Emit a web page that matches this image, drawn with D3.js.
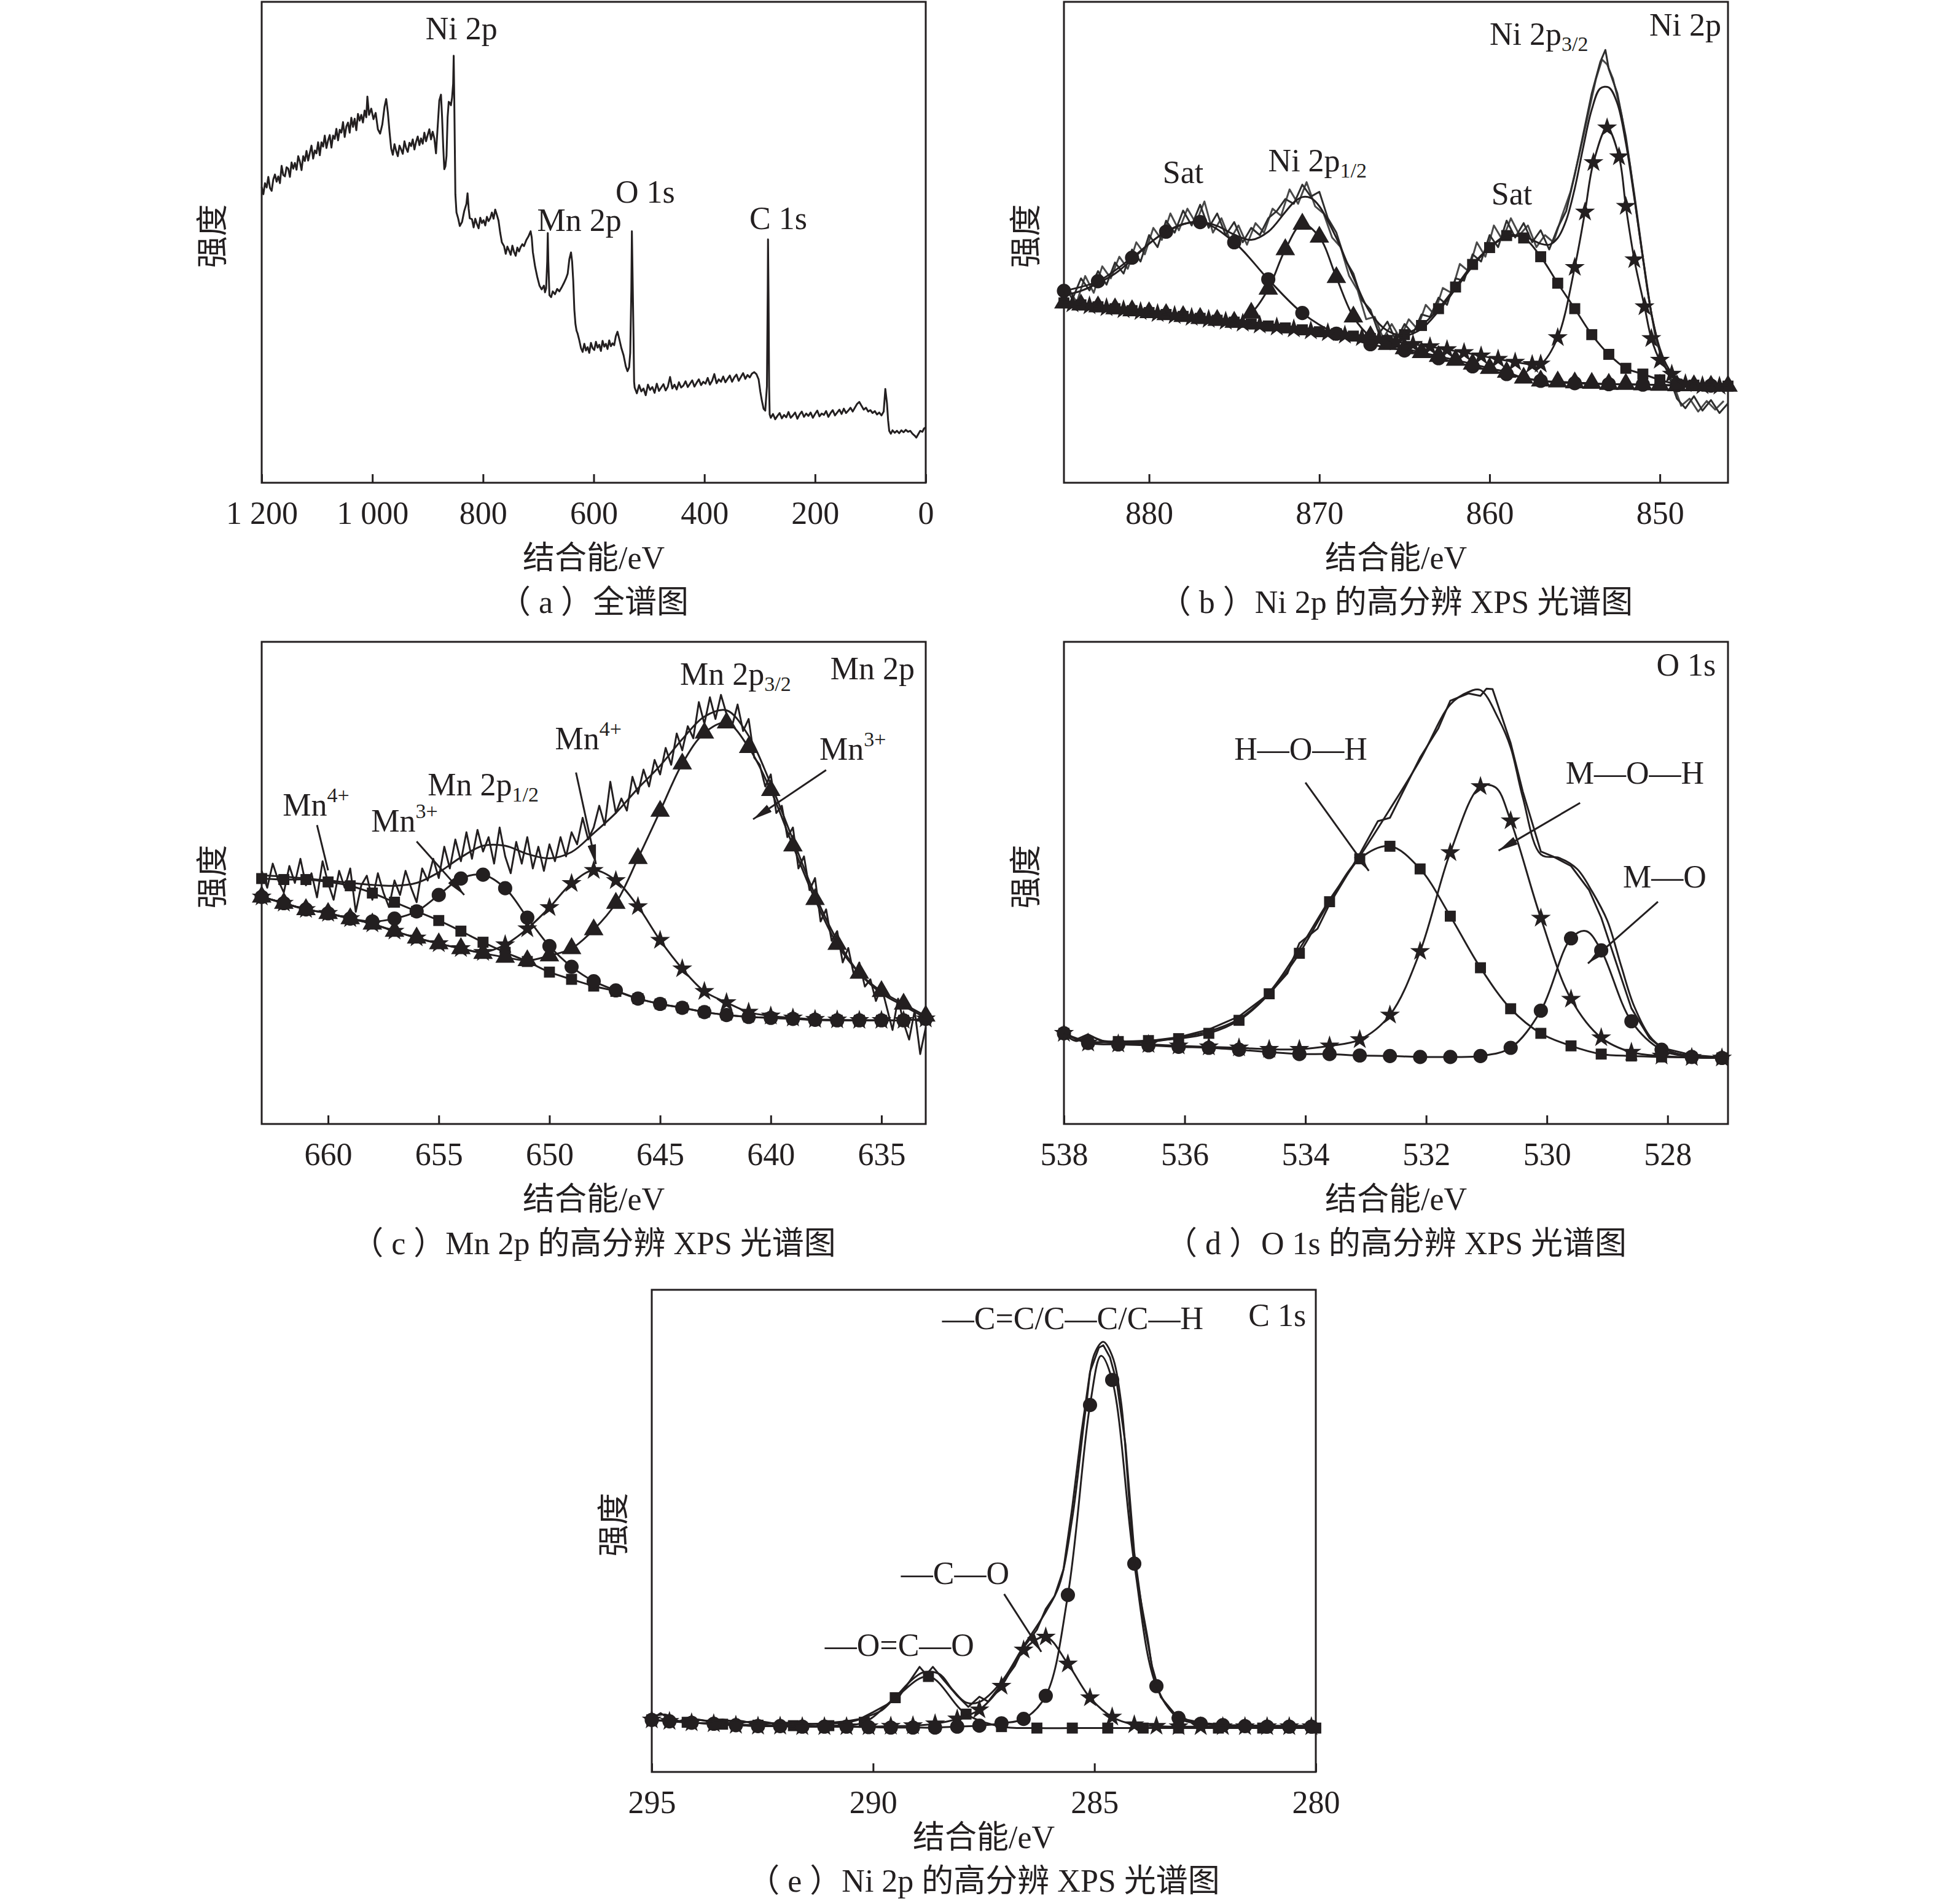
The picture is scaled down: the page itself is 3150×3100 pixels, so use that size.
<!DOCTYPE html>
<html>
<head>
<meta charset="utf-8">
<script src="https://cdn.jsdelivr.net/npm/d3@7"></script>
<style>
body { margin: 0; background: #fff; }
text { font-family: "Liberation Serif", "Noto Sans CJK SC", serif; fill: #231f20; }
</style>
</head>
<body>
<script>
// ---------- (a) survey ----------
var surveyTicks = [1200, 1000, 800, 600, 400, 200, 0];
var surveyTickLabels = ['1 200', '1 000', '800', '600', '400', '200', '0'];
var surveyRaw = [
  [1200,61.5],[1197,60.0],[1194,62.3],[1191,61.4],[1188,63.6],[1185,61.3],[1182,60.7],[1179,63.1],[1176,64.1],[1173,62.6],
  [1170,63.7],[1167,62.3],[1164,65.9],[1161,64.0],[1158,63.7],[1155,65.6],[1152,65.3],[1149,63.6],[1146,66.6],[1143,65.3],
  [1140,66.5],[1137,65.1],[1134,67.9],[1131,66.8],[1128,65.0],[1125,67.9],[1122,66.9],[1119,69.0],[1116,67.0],[1113,68.6],
  [1110,70.1],[1107,67.4],[1104,69.1],[1101,68.5],[1098,70.8],[1095,68.1],[1092,70.8],[1089,69.9],[1086,72.2],[1083,69.6],
  [1080,71.2],[1077,72.3],[1074,69.7],[1071,72.2],[1068,71.5],[1065,73.6],[1062,71.2],[1059,73.4],[1056,72.8],[1053,75.0],
  [1050,71.9],[1047,74.1],[1044,74.9],[1041,72.8],[1038,75.9],[1035,74.0],[1032,75.7],[1029,73.3],[1026,76.7],[1023,75.3],
  [1020,76.5],[1017,74.9],[1014,77.4],[1011,76.0],[1009,80.3],[1006,76.5],[1002,77.8],[998,75.6],[994,76.9],[990,73.5],
  [986,72.6],[982,74.5],[978,78.2],[975,79.8],[972,77.0],[969,73.0],[966,69.5],[963,68.2],[960,70.4],[957,69.0],
  [954,67.9],[951,70.1],[948,69.3],[945,68.4],[942,71.0],[939,69.6],[936,68.8],[933,70.7],[930,70.0],[927,71.4],
  [924,69.3],[921,70.9],[918,72.0],[915,70.2],[912,71.6],[909,70.5],[906,72.8],[903,71.0],[900,72.3],[897,73.5],
  [894,71.4],[891,73.0],[888,71.6],[885,68.5],[882,74.0],[879,79.5],[876,80.7],[874,76.0],[872,70.0],[870,65.2],
  [868,65.8],[866,68.0],[864,76.0],[862,79.2],[860,79.0],[858,78.5],[856,80.0],[854,83.0],[853,88.8],[852,80.0],
  [851,70.0],[850,60.0],[848,56.2],[845,55.0],[842,53.4],[838,54.2],[834,56.5],[830,58.0],[828,60.2],[826,57.0],
  [824,55.0],[820,54.8],[817,53.1],[814,54.9],[811,53.8],[808,52.9],[805,55.1],[802,54.0],[799,54.6],[796,53.5],
  [793,55.3],[790,54.4],[787,55.0],[784,56.2],[781,54.9],[778,56.8],[775,55.7],[772,54.5],[769,52.0],[766,50.0],
  [762,49.2],[759,47.6],[756,49.1],[753,48.3],[750,47.4],[747,49.3],[744,48.0],[741,47.2],[738,48.9],[735,48.1],
  [732,49.0],[729,49.6],[726,49.2],[722,50.4],[718,51.2],[714,52.3],[712,51.0],[710,48.0],[706,45.0],[702,42.8],
  [698,41.0],[694,40.2],[690,41.0],[688,39.6],[686,40.4],[684,46.0],[683,51.9],[682,46.0],[680,39.0],[677,38.6],
  [674,39.8],[670,39.2],[666,40.3],[662,39.8],[658,40.6],[654,41.5],[650,42.5],[647,43.5],[644,46.5],[641,47.9],
  [639,46.0],[637,42.0],[635,36.0],[633,33.0],[631,31.6],[629,31.0],[626,29.6],[623,28.0],[620,27.2],[617,28.9],
  [614,27.5],[611,28.2],[608,27.0],[605,29.1],[602,28.0],[599,27.6],[596,29.3],[593,28.1],[590,28.7],[587,27.4],
  [584,29.5],[581,28.3],[578,28.9],[575,27.8],[572,29.6],[569,28.4],[566,29.0],[563,28.6],[560,30.5],[557,31.4],
  [554,30.0],[550,28.0],[546,26.5],[542,24.2],[539,23.2],[536,24.0],[534,27.0],[532,40.0],[531,52.3],[530,45.0],
  [528,30.0],[527,21.0],[526,19.8],[522,18.6],[518,20.3],[514,19.0],[510,19.6],[506,18.2],[502,20.4],[498,19.3],
  [494,19.9],[490,18.7],[486,20.6],[482,19.1],[478,19.8],[474,20.5],[470,19.2],[466,20.0],[462,22.0],[458,19.6],
  [454,20.4],[450,19.4],[446,20.9],[442,19.8],[438,20.2],[434,21.1],[430,19.9],[426,20.6],[422,21.3],[418,20.0],
  [414,20.8],[410,21.5],[406,20.3],[402,21.0],[398,20.6],[394,21.8],[390,20.4],[386,21.2],[382,22.6],[378,20.7],
  [374,21.5],[370,21.0],[366,22.1],[362,20.9],[358,21.6],[354,22.3],[350,21.0],[346,21.9],[342,22.5],[338,21.2],
  [334,22.0],[330,22.8],[326,21.6],[322,22.4],[318,21.9],[314,22.7],[310,23.0],[306,22.6],[302,21.5],[299,19.0],
  [296,17.0],[293,15.4],[290,15.0],[287,20.0],[285.5,40.0],[285,50.6],[284,38.0],[283,20.0],[282,14.2],[280,13.5],
  [276,14.3],[272,13.2],[268,13.9],[264,14.5],[260,13.4],[256,14.1],[252,13.6],[248,14.7],[244,13.5],[240,14.0],
  [236,14.6],[232,13.3],[228,14.2],[224,14.8],[220,13.7],[216,14.4],[212,13.9],[208,14.6],[204,13.5],[200,14.3],
  [196,15.0],[192,13.8],[188,14.4],[184,14.1],[180,14.9],[176,13.7],[172,14.5],[168,15.1],[164,14.0],[160,14.6],
  [156,15.2],[152,14.3],[148,15.4],[144,14.5],[140,15.0],[136,15.6],[132,14.8],[128,15.6],[124,16.4],[120,16.8],
  [116,16.0],[112,15.2],[108,15.6],[104,14.8],[100,15.1],[96,14.5],[92,14.9],[88,14.2],[84,14.6],[80,14.0],
  [76,14.8],[73,19.5],[70,16.5],[68,13.0],[66,10.8],[63,10.2],[60,10.9],[56,10.4],[52,10.8],[48,10.3],
  [44,10.9],[40,10.5],[36,11.0],[32,10.6],[28,10.8],[24,10.2],[20,9.8],[17,9.4],[14,10.0],[10,10.8],
  [6,10.6],[3,11.3],[0,11.5]
];

// ---------- (b) Ni 2p ----------
var niTicks = [880, 870, 860, 850];
var niRawA = [
  [885,41.0],[884.5,38.2],[884,42.5],[883.5,40.0],[883,44.0],[882.5,41.2],[882,45.8],[881.5,43.5],[881,48.5],[880.5,46.0],
  [880,51.5],[879.5,49.0],[879,54.5],[878.5,52.0],[878,56.6],[877.5,53.5],[877,57.8],[876.5,53.0],[876,56.0],[875.5,51.5],
  [875,54.2],[874.5,50.0],[874,53.0],[873.5,51.5],[873,55.0],[872.5,56.5],[872,59.0],[871.5,58.0],[871,62.0],[870.5,59.5],
  [870,60.5],[869.5,55.0],[869,52.0],[868.5,46.5],[868,43.5],[867.5,38.0],[867,36.0],[866.5,31.0],[866,33.5],[865.5,29.5],
  [865,33.0],[864.5,31.0],[864,35.0],[863.5,34.5],[863,38.5],[862.5,37.0],[862,42.5],[861.5,42.0],[861,47.5],[860.5,46.0],
  [860,51.5],[859.5,49.0],[859,54.5],[858.5,51.0],[858,54.0],[857.5,50.0],[857,52.5],[856.5,48.5],[856,53.0],[855.5,56.5],
  [855,64.0],[854.5,72.5],[854,81.0],[853.5,87.5],[853.2,90.0],[853,86.0],[852.5,81.0],[852,72.0],[851.5,60.0],[851,47.0],
  [850.5,35.0],[850,27.0],[849.5,22.5],[849,17.5],[848.5,15.5],[848,18.0],[847.5,15.0],[847,17.2],[846.5,14.5],[846,16.5]
];
var niRawB = [
  [884.75,40.5],[884.25,37.5],[883.75,43.0],[883.25,39.5],[882.75,45.0],[882.25,42.5],[881.75,47.0],[881.25,44.5],[880.75,50.0],[880.25,47.5],
  [879.75,53.0],[879.25,50.5],[878.75,56.0],[878.25,52.5],[877.75,57.0],[877.25,54.0],[876.75,58.5],[876.25,52.0],[875.75,55.0],[875.25,50.5],
  [874.75,53.5],[874.25,49.5],[873.75,54.0],[873.25,52.0],[872.75,57.0],[872.25,55.5],[871.75,61.0],[871.25,58.0],[870.75,62.5],[870.25,57.5],
  [869.75,56.0],[869.25,51.0],[868.75,49.0],[868.25,43.0],[867.75,40.0],[867.25,34.0],[866.75,34.5],[866.25,30.0],[865.75,33.0],[865.25,30.0],
  [864.75,34.0],[864.25,32.0],[863.75,37.0],[863.25,35.0],[862.75,40.5],[862.25,39.5],[861.75,45.5],[861.25,44.0],[860.75,50.0],[860.25,47.0],
  [859.75,53.5],[859.25,50.5],[858.75,55.0],[858.25,51.5],[857.75,53.5],[857.25,49.0],[856.75,51.5],[856.25,50.0],[855.75,55.5],[855.25,60.5],
  [854.75,68.0],[854.25,76.0],[853.75,84.0],[853.4,88.0],[853.1,87.0],[852.75,84.0],[852.25,76.5],[851.75,66.0],[851.25,53.0],[850.75,40.5],
  [850.25,30.0],[849.75,24.5],[849.25,21.0],[848.75,16.0],[848.25,17.5],[847.75,14.8],[847.25,17.0],[846.75,15.2],[846.25,17.0]
];
var niFit = [
  [885,39.0],[884,39.9],[883,41.5],[882,43.5],[881,46.4],[880,49.7],[879,52.2],[878,53.8],[877,54.2],[876,53.4],
  [875,51.6],[874,50.5],[873,52.2],[872,56.3],[871.5,58.3],[871,59.4],[870.5,59.2],[870,57.5],[869,50.9],[868,42.7],
  [867,35.3],[866,31.6],[865,30.6],[864,32.0],[863,35.7],[862,40.3],[861,45.0],[860,48.9],[859,51.1],[858,51.2],
  [857.5,50.5],[857,49.7],[856.5,49.5],[856,50.9],[855.5,54.6],[855,61.2],[854.5,69.8],[854,77.6],[853.5,82.0],[853,82.2],
  [852.5,78.9],[852,70.7],[851.5,59.2],[851,46.8],[850.5,35.3],[850,27.9],[849.5,23.8],[849,21.8],[848,20.7],[847,20.4],[846,20.1]
];
var niSatHigh = [
  [885,39.9],[883,41.9],[881,46.8],[879,52.2],[877,54.2],[875,50.0],[873,42.3],[871,35.3],[869,31.0],[867,28.8],
  [865,27.5],[863,25.9],[861,24.2],[859,22.6],[857,21.2],[855,20.7],[853,20.5],[851,20.4],[849,20.3],[847,20.2]
];
var ni2p12 = [
  [885,37.4],[884,37.0],[883,36.6],[882,36.2],[881,35.8],[880,35.4],[879,35.0],[878,34.6],[877,34.2],[876,33.8],
  [875,33.4],[874,35.3],[873,40.3],[872,48.5],[871,53.8],[870,51.1],[869,42.7],[868,34.5],[867,30.4],[866,28.8],
  [865,27.9],[864,27.1],[863,26.3],[862,25.5],[861,24.7],[860,23.8],[859,23.0],[858,21.8],[857,21.2],[856,21.0],
  [855,20.8],[854,20.7],[853,20.5],[852,20.5],[851,20.4],[850,20.3],[849,20.2],[848,20.2],[847,20.1],[846,20.1]
];
var niSatLow = [
  [885,37.4],[884,37.0],[883,36.6],[882,36.2],[881,35.8],[880,35.4],[879,35.0],[878,34.6],[877,34.2],[876,33.8],
  [875,33.4],[874,33.0],[873,32.6],[872,32.2],[871,31.8],[870,31.4],[869,31.0],[868,30.5],[867,30.0],[866,29.6],
  [865,30.8],[864,32.7],[863,36.2],[862,40.7],[861,45.4],[860,48.9],[859,51.4],[858,50.9],[857,47.0],[856,41.5],
  [855,36.2],[854,30.8],[853,26.7],[852,23.8],[851,22.6],[850,21.4],[849,20.5],[848,20.3],[847,20.1],[846,20.1]
];
var ni2p32 = [
  [884.5,37.2],[883.5,36.8],[882.5,36.4],[881.5,36.0],[880.5,35.6],[879.5,35.2],[878.5,34.8],[877.5,34.4],[876.5,34.0],[875.5,33.6],
  [874.5,33.2],[873.5,32.8],[872.5,32.4],[871.5,32.0],[870.5,31.6],[869.5,31.2],[868.5,30.7],[867.5,30.2],[866.5,29.8],[865.5,29.3],
  [864.5,28.8],[863.5,28.3],[862.5,27.7],[861.5,27.1],[860.5,26.4],[859.5,25.7],[858.5,25.1],[857.5,24.6],[857,24.7],[856,30.2],
  [855,44.8],[854.4,56.3],[853.9,66.6],[853.1,73.8],[852.4,67.8],[852,57.5],[851.5,46.4],[850.9,36.6],[850.5,30.0],[850,25.5],
  [849.3,22.6],[848.5,20.6],[847.5,20.2],[846.5,20.1]
];

// ---------- (c) Mn 2p ----------
var mnTicks = [660, 655, 650, 645, 640, 635];
var mnRaw = [
  [663,52.5],[662.75,49.0],[662.5,54.0],[662.25,50.5],[662,48.0],[661.75,53.5],[661.5,50.0],[661.25,55.0],[661,49.5],[660.75,52.0],
  [660.5,47.0],[660.25,54.5],[660,50.0],[659.75,46.5],[659.5,52.5],[659.25,49.0],[659,53.0],[658.75,44.0],[658.5,49.5],[658.25,51.5],
  [658,46.5],[657.75,52.0],[657.5,48.0],[657.25,45.0],[657,50.5],[656.75,47.5],[656.5,52.5],[656.25,49.0],[656,46.0],[655.75,53.0],
  [655.5,50.5],[655.25,55.0],[655,51.0],[654.75,57.5],[654.5,53.0],[654.25,59.0],[654,54.5],[653.75,60.5],[653.5,55.0],[653.25,61.0],
  [653,56.5],[652.75,59.5],[652.5,54.0],[652.25,61.5],[652,55.5],[651.75,52.0],[651.5,58.5],[651.25,54.0],[651,59.5],[650.75,53.0],
  [650.5,57.5],[650.25,52.5],[650,58.0],[649.75,54.5],[649.5,59.5],[649.25,55.5],[649,60.5],[648.75,58.0],[648.5,63.5],[648.25,59.0],
  [648,61.5],[647.75,66.0],[647.5,62.0],[647.25,71.0],[647,64.5],[646.75,67.5],[646.5,65.0],[646.25,72.0],[646,68.5],[645.75,73.5],
  [645.5,70.0],[645.25,75.5],[645,72.5],[644.75,78.0],[644.5,74.5],[644.25,81.0],[644,77.5],[643.75,82.5],[643.5,80.0],[643.25,87.5],
  [643,83.0],[642.75,88.5],[642.5,84.0],[642.25,89.0],[642,85.0],[641.75,82.5],[641.5,87.0],[641.25,81.5],[641,84.0],[640.75,76.0],
  [640.5,74.5],[640.25,70.0],[640,72.5],[639.75,64.5],[639.5,66.0],[639.25,59.5],[639,61.5],[638.75,53.0],[638.5,55.5],[638.25,48.5],
  [638,51.0],[637.75,42.0],[637.5,44.5],[637.25,38.0],[637,40.0],[636.75,33.5],[636.5,36.5],[636.25,31.0],[636,33.5],[635.75,28.5],
  [635.5,30.0],[635.25,25.5],[635,28.5],[634.75,24.0],[634.5,19.5],[634.25,26.0],[634,21.0],[633.75,17.5],[633.5,23.5],[633.25,14.5],[633,20.0]
];
var mnFit = [
  [663,51.6],[662,51.3],[661,50.9],[660,50.5],[659,50.0],[658,49.6],[657,49.4],[656,50.0],[655,52.2],[654,55.3],
  [653,57.7],[652,57.7],[651,56.0],[650,55.1],[649,56.4],[648,60.3],[647,64.5],[646,69.6],[645,74.3],[644,79.8],
  [643,84.5],[642,85.8],[641,80.5],[640,70.5],[639,59.0],[638,47.5],[637,38.1],[636,31.3],[635,27.1],[634,24.5],[633,22.0]
];
var mnSq = [
  [663,50.9],[662,50.7],[661,50.7],[660,50.2],[659,49.4],[658,47.9],[657,46.0],[656,44.1],[655,42.2],[654,40.0],
  [653,37.7],[652,35.6],[651,33.7],[650,31.5],[649,30.0],[648,28.6],[647,27.5],[646,26.0],[645,24.9],[644,24.1],
  [643,23.2],[642,22.6],[641,22.2],[640,22.0],[639,21.8],[638,21.6],[637,21.5],[636,21.5],[635,21.5],[634,21.5],[633,21.8]
];
var mnCirc = [
  [663,47.1],[662,45.8],[661,44.5],[660,43.7],[659,42.6],[658,42.0],[657,42.6],[656,44.1],[655,47.5],[654,50.9],
  [653,51.7],[652,48.9],[651,42.8],[650,36.9],[649,32.6],[648,29.6],[647,27.7],[646,26.0],[645,24.9],[644,24.1],
  [643,23.2],[642,22.6],[641,22.2],[640,22.0],[639,21.8],[638,21.6],[637,21.5],[636,21.5],[635,21.5],[634,21.5],[633,21.8]
];
var mnStar = [
  [663,47.1],[662,45.8],[661,44.5],[660,43.7],[659,42.6],[658,41.5],[657,40.0],[656,38.6],[655,37.4],[654,36.4],
  [653,35.6],[652,37.2],[651,40.5],[650,44.9],[649,49.9],[648,52.6],[647,50.5],[646,45.1],[645,38.1],[644,32.2],
  [643,27.5],[642,25.2],[641,23.2],[640,22.4],[639,22.0],[638,21.7],[637,21.6],[636,21.5],[635,21.5],[634,21.5],[633,21.8]
];
var mnTri = [
  [663,47.1],[662,45.8],[661,44.5],[660,43.7],[659,42.6],[658,41.5],[657,40.0],[656,38.6],[655,37.4],[654,36.4],
  [653,35.4],[652,34.6],[651,33.9],[650,34.9],[649,36.4],[648,40.3],[647,45.8],[646,55.1],[645,64.9],[644,74.7],
  [643,81.1],[642,83.2],[641,78.1],[640,69.2],[639,57.7],[638,46.6],[637,37.3],[636,31.3],[635,27.5],[634,24.9],[633,22.4]
];

// ---------- (d) O 1s ----------
var oTicks = [538, 536, 534, 532, 530, 528];
var oRaw = [
  [538,19.2],[537.8,17.5],[537.6,18.6],[537.4,17.3],[537.1,16.9],[536.6,17.2],[536.1,18.0],[535.6,19.6],[535.1,22.3],[534.6,27.0],
  [534.3,31.2],[534.1,37.5],[533.8,40.5],[533.6,45.6],[533.1,56.0],[532.8,62.8],[532.6,63.5],[532.1,76.0],[531.8,82.0],[531.6,87.8],
  [531.3,89.3],[531.1,88.8],[531.0,90.3],[530.9,90.2],[530.6,79.0],[530.4,69.0],[530.1,56.5],[529.9,55.5],[529.6,53.5],[529.3,48.5],
  [529.1,42.8],[528.8,31.5],[528.6,24.0],[528.3,17.8],[528.1,15.8],[527.6,14.3],[527.1,13.8]
];
var oFit = [
  [538,18.8],[537.8,17.2],[537.6,18.2],[537.3,17.0],[537.1,16.8],[536.6,17.0],[536.1,17.9],[535.6,19.2],[535.1,21.8],[534.6,27.3],
  [534.1,36.3],[533.6,46.5],[533.1,55.5],[532.6,65.3],[532.1,75.5],[531.6,87.0],[531.3,89.6],[531.1,90.0],[530.8,84.0],[530.6,78.1],
  [530.4,67.8],[530.1,55.9],[529.8,55.2],[529.5,52.9],[529.25,48.2],[529.0,42.2],[528.77,32.8],[528.55,24.3],[528.25,17.5],[527.95,15.0],
  [527.6,14.1],[527.1,13.7]
];
var oSq = [
  [538,18.8],[537.6,17.1],[537.1,17.1],[536.6,17.3],[536.1,17.7],[535.6,18.8],[535.1,21.5],[534.6,27.0],[534.1,35.4],[533.6,46.1],
  [533.1,55.0],[532.6,57.6],[532.1,52.9],[531.6,43.1],[531.1,32.4],[530.6,23.9],[530.1,18.8],[529.6,16.2],[529.1,14.5],[528.6,14.1],
  [528.1,13.9],[527.6,13.8],[527.1,13.7]
];
var oStar = [
  [538,18.8],[537.6,16.8],[537.1,16.6],[536.6,16.5],[536.1,16.2],[535.6,16.0],[535.1,15.8],[534.6,15.5],[534.1,15.5],[533.6,16.2],
  [533.1,17.5],[532.6,22.6],[532.1,35.8],[531.6,56.3],[531.1,70.0],[530.85,69.8,0],[530.6,62.9],[530.1,42.7],[529.6,25.9],[529.1,17.9],
  [528.6,14.9],[528.1,14.1],[527.6,13.8],[527.1,13.7]
];
var oCirc = [
  [538,18.8],[537.6,16.8],[537.1,16.5],[536.6,16.3],[536.1,16.0],[535.6,15.8],[535.1,15.4],[534.6,14.9],[534.1,14.5],[533.6,14.5],
  [533.1,14.2],[532.6,14.1],[532.1,13.9],[531.6,13.9],[531.1,14.1],[530.6,15.8],[530.1,23.5],[529.6,38.5],[529.35,40.0,0],[529.1,36.0],
  [528.6,21.3],[528.1,15.4],[527.6,13.9],[527.1,13.7]
];

// ---------- (e) C 1s ----------
var cTicks = [295, 290, 285, 280];
var cRaw = [
  [295,11.0],[294.8,12.2],[294.6,11.0],[294.4,10.4],[294.2,11.2],[293.8,10.6],[293.4,10.9],[293.0,10.2],[292.6,10.6],[292.2,10.0],
  [291.8,10.3],[291.4,9.9],[291.0,10.2],[290.6,10.5],[290.3,11.0],[290.0,12.4],[289.7,13.9],[289.4,15.8],[289.1,19.8],[288.95,21.8],
  [288.8,20.2],[288.65,21.8],[288.4,19.0],[288.1,15.8],[287.85,13.5],[287.6,15.6],[287.4,14.6],[287.1,18.2],[286.8,22.0],[286.6,25.8],
  [286.3,29.5],[286.1,33.8],[285.9,36.5],[285.7,42.0],[285.5,55.0],[285.3,70.0],[285.1,83.0],[284.9,88.0],[284.8,88.5],[284.65,86.0],
  [284.5,81.0],[284.3,68.0],[284.1,45.5],[283.9,32.0],[283.7,22.0],[283.5,15.5],[283.2,12.2],[282.9,10.8],[282.5,10.1],[282.0,9.7],
  [281.0,9.6],[280.0,9.6]
];
var cFit = [
  [295,11.4],[294.7,11.9],[294.4,10.6],[294.0,10.9],[293.5,10.3],[293.1,10.7],[292.6,10.0],[292.0,10.2],[291.5,10.0],[291.0,10.0],
  [290.5,10.4],[290.1,11.6],[289.8,12.8],[289.5,15.5],[289.1,19.3],[288.85,20.7],[288.5,20.3],[288.2,17.0],[287.9,14.4],[287.6,14.5],
  [287.1,18.7],[286.6,26.1],[286.1,33.2],[285.8,38.6],[285.5,52.7],[285.2,75.1],[285.0,86.7],[284.8,89.2],[284.6,86.3],[284.4,76.8],
  [284.1,44.4],[283.8,27.8],[283.6,17.8],[283.3,12.9],[283.1,11.2],[282.6,10.0],[282.0,9.6],[281.0,9.5],[280.0,9.5]
];
var cSq = [
  [295,10.8],[294.2,10.3],[293.4,9.9],[292.6,9.7],[291.8,9.6],[291.0,9.6],[290.2,10.3],[289.5,15.4],[288.75,19.8],[287.9,12.0],
  [287.1,9.4],[286.3,9.1],[285.5,9.1],[284.7,9.1],[283.9,9.1],[283.1,9.1],[282.2,9.1],[281.2,9.1],[280.0,9.1]
];
var cStar = [
  [295,10.8],[294.6,10.5],[294.1,10.2],[293.6,10.0],[293.1,9.7],[292.6,9.5],[292.1,9.5],[291.6,9.4],[291.1,9.4],[290.6,9.4],
  [290.1,9.4],[289.6,9.5],[289.1,9.6],[288.6,10.0],[288.1,11.0],[287.6,12.9],[287.1,17.8],[286.6,25.3],[286.1,28.0],[285.6,22.4],
  [285.1,15.4],[284.6,11.4],[284.1,9.8],[283.6,9.5],[283.1,9.4],[282.6,9.4],[282.1,9.4],[281.6,9.4],[281.1,9.4],[280.6,9.4],[280.1,9.4]
];
var cCirc = [
  [295,10.8],[294.6,10.5],[294.1,10.2],[293.6,10.0],[293.1,9.7],[292.6,9.5],[292.1,9.5],[291.6,9.4],[291.1,9.4],[290.6,9.4],
  [290.1,9.3],[289.6,9.2],[289.1,9.2],[288.6,9.2],[288.1,9.4],[287.6,9.6],[287.1,10.1],[286.6,11.0],[286.1,15.8],[285.6,36.7],
  [285.1,76.1],[284.85,86.3,0],[284.6,81.3],[284.1,43.2],[283.6,17.8],[283.1,11.2],[282.6,10.0],[282.1,9.7],[281.6,9.5],[281.1,9.4],
  [280.6,9.4],[280.1,9.4]
];

// ---------- drawing ----------
var ink = '#231f20';
var svg = d3.select('body').append('svg').attr('width', 3150).attr('height', 3100);

svg.append('defs').append('marker')
  .attr('id', 'arrow')
  .attr('viewBox', '0 0 32 14')
  .attr('refX', 32).attr('refY', 7)
  .attr('markerWidth', 32).attr('markerHeight', 14)
  .attr('markerUnits', 'userSpaceOnUse')
  .attr('orient', 'auto')
  .append('path').attr('d', 'M0,0L32,7L0,14Z').attr('fill', ink);

var symbols = { circle: d3.symbolCircle, square: d3.symbolSquare, triangle: d3.symbolTriangle, star: d3.symbolStar };
var symbolSize = { circle: 420, square: 320, triangle: 440, star: 330 };

function drawPanel(p) {
  var g = svg.append('g').attr('transform', 'translate(' + p.left + ',' + p.top + ')');
  var x = d3.scaleLinear().domain(p.domain).range([0, p.width]);
  var y = d3.scaleLinear().domain([0, 100]).range([p.height, 0]);

  g.append('rect').attr('width', p.width).attr('height', p.height)
    .attr('fill', 'none').attr('stroke', ink).attr('stroke-width', 3);

  var axis = d3.axisBottom(x).tickValues(p.ticks)
    .tickSizeInner(-14).tickSizeOuter(0).tickPadding(30);
  if (p.tickLabels) axis.tickFormat((d, i) => p.tickLabels[i]);
  var ag = g.append('g').attr('transform', 'translate(0,' + p.height + ')').call(axis);
  ag.attr('font-size', 52);
  ag.select('.domain').remove();
  ag.selectAll('line').attr('stroke', ink).attr('stroke-width', 3);

  var straight = d3.line().x(d => x(d[0])).y(d => y(d[1]));
  var smooth = d3.line().x(d => x(d[0])).y(d => y(d[1])).curve(d3.curveCatmullRom.alpha(0.5));

  p.series.forEach(function (s) {
    g.append('path').datum(s.data)
      .attr('d', s.smooth ? smooth : straight)
      .attr('fill', 'none')
      .attr('stroke', s.color || ink)
      .attr('stroke-width', s.width || 3)
      .attr('stroke-linejoin', 'round');
    if (s.symbol) {
      g.selectAll(null).data(s.data.filter(d => d[2] !== 0)).enter().append('path')
        .attr('transform', d => 'translate(' + x(d[0]) + ',' + y(d[1]) + ')')
        .attr('d', d3.symbol().type(symbols[s.symbol]).size(symbolSize[s.symbol]))
        .attr('fill', ink);
    }
  });

  (p.arrows || []).forEach(function (a) {
    g.append('line')
      .attr('x1', x(a[0][0])).attr('y1', y(a[0][1]))
      .attr('x2', x(a[1][0])).attr('y2', y(a[1][1]))
      .attr('stroke', ink).attr('stroke-width', 3)
      .attr('marker-end', a[2] === false ? null : 'url(#arrow)');
  });

  (p.labels || []).forEach(function (l) {
    var t = g.append('text')
      .attr('x', x(l.at[0])).attr('y', y(l.at[1]))
      .attr('font-size', 52)
      .attr('text-anchor', l.anchor || 'start')
      .text(l.text);
    if (l.sub) t.append('tspan').attr('font-size', 34).attr('dy', 10).text(l.sub);
    if (l.sup) t.append('tspan').attr('font-size', 34).attr('dy', -22).text(l.sup);
  });

  g.append('text')
    .attr('transform', 'translate(' + (-p.yLabelGap) + ',' + (p.height / 2 - 10) + ') rotate(-90)')
    .attr('text-anchor', 'middle').attr('dy', '0.35em')
    .attr('font-size', 52).text('强度');

  var xl = p.xLabelY || 140, cap = p.captionY || 212;
  g.append('text').attr('x', p.width / 2).attr('y', p.height + xl)
    .attr('text-anchor', 'middle').attr('font-size', 52).text('结合能/eV');
  g.append('text').attr('x', p.width / 2).attr('y', p.height + cap)
    .attr('text-anchor', 'middle').attr('font-size', 52).text(p.caption);
}

drawPanel({
  left: 426, top: 3, width: 1081, height: 783, domain: [1200, 0],
  ticks: surveyTicks, tickLabels: surveyTickLabels, yLabelGap: 80,
  caption: '（ a ）全谱图',
  series: [{ data: surveyRaw }],
  labels: [
    { text: 'Ni 2p', at: [839, 92.2], anchor: 'middle' },
    { text: 'Mn 2p', at: [626, 52.3], anchor: 'middle' },
    { text: 'O 1s', at: [507, 58.3], anchor: 'middle' },
    { text: 'C 1s', at: [266.5, 52.8], anchor: 'middle' }
  ]
});

drawPanel({
  left: 1732, top: 3, width: 1081, height: 783, domain: [885, 846],
  ticks: niTicks, yLabelGap: 62,
  caption: '（ b ）Ni 2p 的高分辨 XPS 光谱图',
  series: [
    { data: niRawB, color: '#4a4a4a' },
    { data: niRawA, color: '#2e2e2e' },
    { data: niSatHigh, smooth: true, symbol: 'circle' },
    { data: ni2p12, smooth: true, symbol: 'triangle' },
    { data: niSatLow, smooth: true, symbol: 'square' },
    { data: ni2p32, smooth: true, symbol: 'star' },
    { data: niFit, smooth: true }
  ],
  labels: [
    { text: 'Sat', at: [878.0, 62.3], anchor: 'middle' },
    { text: 'Ni 2p', sub: '1/2', at: [873.0, 64.7] },
    { text: 'Sat', at: [858.7, 57.9], anchor: 'middle' },
    { text: 'Ni 2p', sub: '3/2', at: [860.0, 91.0] },
    { text: 'Ni 2p', at: [846.4, 93.0], anchor: 'end' }
  ]
});

drawPanel({
  left: 426, top: 1045, width: 1081, height: 785, domain: [663, 633],
  ticks: mnTicks, yLabelGap: 80,
  caption: '（ c ）Mn 2p 的高分辨 XPS 光谱图',
  series: [
    { data: mnRaw },
    { data: mnSq, smooth: true, symbol: 'square' },
    { data: mnCirc, smooth: true, symbol: 'circle' },
    { data: mnStar, smooth: true, symbol: 'star' },
    { data: mnTri, smooth: true, symbol: 'triangle' },
    { data: mnFit, smooth: true }
  ],
  arrows: [
    [[648.8, 72.9], [647.9, 53.9]],
    [[637.5, 73.4], [640.8, 63.2]],
    [[660.5, 62.0], [660.0, 52.6], false],
    [[656.0, 58.6], [653.85, 47.5]]
  ],
  labels: [
    { text: 'Mn 2p', at: [633.5, 92.2], anchor: 'end' },
    { text: 'Mn 2p', sub: '3/2', at: [644.1, 91.1] },
    { text: 'Mn', sup: '4+', at: [649.75, 77.7] },
    { text: 'Mn', sup: '3+', at: [637.8, 75.6] },
    { text: 'Mn 2p', sub: '1/2', at: [655.5, 68.1] },
    { text: 'Mn', sup: '4+', at: [662.05, 63.9] },
    { text: 'Mn', sup: '3+', at: [658.05, 60.7] }
  ]
});

drawPanel({
  left: 1732, top: 1045, width: 1081, height: 785, domain: [538, 527],
  ticks: oTicks, yLabelGap: 62,
  caption: '（ d ）O 1s 的高分辨 XPS 光谱图',
  series: [
    { data: oRaw },
    { data: oCirc, smooth: true, symbol: 'circle' },
    { data: oSq, smooth: true, symbol: 'square' },
    { data: oStar, smooth: true, symbol: 'star' },
    { data: oFit, smooth: true }
  ],
  arrows: [
    [[534.0, 70.8], [532.95, 52.5]],
    [[529.45, 66.6], [530.8, 56.7]],
    [[528.16, 46.1], [529.32, 33.3]]
  ],
  labels: [
    { text: 'O 1s', at: [527.2, 93.0], anchor: 'end' },
    { text: 'H—O—H', at: [535.18, 75.5] },
    { text: 'M—O—H', at: [529.69, 70.6] },
    { text: 'M—O', at: [528.74, 49.1] }
  ]
});

drawPanel({
  left: 1061, top: 2100, width: 1081, height: 785, domain: [295, 280],
  ticks: cTicks, yLabelGap: 62, xLabelY: 124, captionY: 195,
  caption: '（ e ）Ni 2p 的高分辨 XPS 光谱图',
  series: [
    { data: cRaw },
    { data: cSq, smooth: true, symbol: 'square' },
    { data: cStar, smooth: true, symbol: 'star' },
    { data: cCirc, smooth: true, symbol: 'circle' },
    { data: cFit, smooth: true }
  ],
  arrows: [
    [[287.04, 36.9], [286.2, 24.9]]
  ],
  labels: [
    { text: 'C 1s', at: [280.22, 92.5], anchor: 'end' },
    { text: '—C=C/C—C/C—H', at: [288.44, 91.9] },
    { text: '—C—O', at: [289.37, 39.0] },
    { text: '—O=C—O', at: [291.09, 24.1] }
  ]
});
</script>
</body>
</html>
